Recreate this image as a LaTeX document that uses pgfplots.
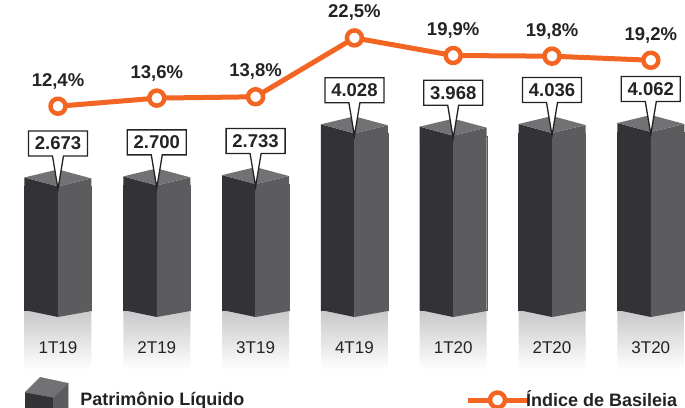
\documentclass[border=0pt]{standalone}
\usepackage{fontspec}
\setmainfont{Liberation Sans}
\usepackage{pgfplots}
\pgfplotsset{compat=1.18}
\usepackage{pgfplotstable}
\usetikzlibrary{shapes.callouts}
\definecolor{pfront}{RGB}{51,50,54}
\definecolor{pside}{RGB}{92,92,94}
\definecolor{ptop}{RGB}{114,114,116}
\definecolor{porange}{RGB}{242,101,34}
\definecolor{boxtop}{RGB}{200,200,202}
\definecolor{txt}{RGB}{35,35,38}

% top of a 3D bar (origin = front corner of the top face)
\pgfdeclareplotmark{bartop}{%
  \pgfpathmoveto{\pgfqpoint{-33.5pt}{-0.6pt}}%
  \pgfpathlineto{\pgfqpoint{-33.5pt}{9pt}}%
  \pgfpathlineto{\pgfqpoint{0pt}{0pt}}%
  \pgfpathlineto{\pgfqpoint{0pt}{-0.6pt}}%
  \pgfpathclose
  \pgfsetfillcolor{pfront}\pgfusepath{fill}%
  \pgfpathmoveto{\pgfqpoint{0pt}{-0.6pt}}%
  \pgfpathlineto{\pgfqpoint{0pt}{0pt}}%
  \pgfpathlineto{\pgfqpoint{33.5pt}{8pt}}%
  \pgfpathlineto{\pgfqpoint{33.5pt}{-0.6pt}}%
  \pgfpathclose
  \pgfsetfillcolor{pside}\pgfusepath{fill}%
  \pgfpathmoveto{\pgfqpoint{-33.5pt}{9pt}}%
  \pgfpathlineto{\pgfqpoint{0pt}{0pt}}%
  \pgfpathlineto{\pgfqpoint{33.5pt}{8pt}}%
  \pgfpathlineto{\pgfqpoint{0pt}{17pt}}%
  \pgfpathclose
  \pgfsetfillcolor{ptop}\pgfusepath{fill}%
}
% bottom of a 3D bar
\pgfdeclareplotmark{barbottom}{%
  \pgfpathmoveto{\pgfqpoint{-33.5pt}{0.6pt}}%
  \pgfpathlineto{\pgfqpoint{0pt}{0.6pt}}%
  \pgfpathlineto{\pgfqpoint{0pt}{-7pt}}%
  \pgfpathlineto{\pgfqpoint{-33.5pt}{0pt}}%
  \pgfpathclose
  \pgfsetfillcolor{pfront}\pgfusepath{fill}%
  \pgfpathmoveto{\pgfqpoint{0pt}{0.6pt}}%
  \pgfpathlineto{\pgfqpoint{33.5pt}{0.6pt}}%
  \pgfpathlineto{\pgfqpoint{33.5pt}{-1pt}}%
  \pgfpathlineto{\pgfqpoint{0pt}{-7pt}}%
  \pgfpathclose
  \pgfsetfillcolor{pside}\pgfusepath{fill}%
}

\pgfplotstableread{
x pl bas
0 2673 12.4
1 2700 13.6
2 2733 13.8
3 4028 22.5
4 3968 19.9
5 4036 19.8
6 4062 19.2
}\datatable

\begin{document}
\begin{tikzpicture}
\useasboundingbox (0,0) rectangle (685pt,407pt);
\begin{axis}[
  at={(0,0)}, anchor=south west,
  scale only axis, width=685pt, height=407pt,
  xmin=-0.587, xmax=6.346, ymin=-2474, ymax=7908,
  clip=false, axis on top,
  axis line style={draw=none}, tick style={draw=none}, major tick length=0pt,
  ytick=\empty,
  xtick={0,...,6},
  xticklabels={1T19,2T19,3T19,4T19,1T20,2T20,3T20},
  xticklabel style={anchor=center, yshift=59pt, font=\fontsize{17}{17}\selectfont, text=txt},
  legend style={draw=none, fill=none, inner sep=0pt, outer sep=0pt,
    at={(axis description cs:0,0)}, anchor=south west, xshift=25pt, yshift=-9.5pt,
    font=\bfseries\fontsize{18}{18}\selectfont, text=txt, column sep=12pt,
    nodes={inner sep=0pt}},
]
% gradient label boxes
\addplot[ybar, bar width=67pt, bar shift=0pt, draw=none, top color=boxtop, bottom color=white, forget plot]
  coordinates {(0,-1531) (1,-1531) (2,-1531) (3,-1531) (4,-1531) (5,-1531) (6,-1531)};
% front faces
\addplot[ybar, bar width=33.5pt, bar shift=-16.75pt, fill=pfront, draw=pfront, line width=0.3pt, forget plot]
  table[x=x, y expr=\thisrow{pl}+479]{\datatable};
% side faces
\addplot[ybar, bar width=33.5pt, bar shift=16.75pt, fill=pside, draw=pside, line width=0.3pt, forget plot]
  table[x=x, y expr=\thisrow{pl}+479]{\datatable};
% bar bottoms
\addplot[only marks, mark=barbottom, forget plot]
  coordinates {(0,0) (1,0) (2,0) (3,0) (4,0) (5,0) (6,0)};
% bar tops and value callouts
\addplot[only marks, mark=bartop, forget plot,
  point meta=explicit,
  nodes near coords={\pgfmathprintnumber[fixed, 1000 sep={.}, assume math mode=true]{\pgfplotspointmeta}},
  every node near coord/.append style={rectangle callout, draw=txt, line width=1.3pt, fill=white,
    minimum width=59pt, minimum height=25pt, inner sep=0pt, anchor=center, yshift=43pt,
    callout relative pointer={(0pt,-33pt)}, callout pointer width=11pt,
    font=\bfseries\fontsize{18.5}{18.5}\selectfont, text=txt}]
  table[x=x, y expr=\thisrow{pl}+479, meta=pl]{\datatable};
\addlegendimage{legend image code/.code={
  \path[draw=none, fill=none] (0pt,-10pt) -- (0pt,30pt);
  \begin{scope}[yshift=-7pt]
  \fill[pfront] (0pt,14pt) -- (28pt,9pt) -- (28pt,-10pt) -- (0pt,-10pt) -- cycle;
  \fill[pside] (28pt,9pt) -- (43pt,23pt) -- (43pt,-10pt) -- (28pt,-10pt) -- cycle;
  \fill[ptop] (0pt,14pt) -- (28pt,9pt) -- (43pt,23pt) -- (15pt,29pt) -- cycle;
  \end{scope}
}}
\addlegendentry{Patrimônio Líquido}
\end{axis}

\begin{axis}[
  at={(0,0)}, anchor=south west,
  scale only axis, width=685pt, height=407pt,
  xmin=-0.587, xmax=6.346, ymin=-32.06, ymax=28.105,
  hide axis, clip=false,
  legend style={draw=none, fill=none, inner sep=0pt, outer sep=0pt,
    at={(axis description cs:0,0)}, anchor=south west, xshift=465pt, yshift=-2.75pt,
    font=\bfseries\fontsize{18}{18}\selectfont, text=txt, column sep=-4pt,
    nodes={inner sep=0pt}},
]
\addplot[porange, line width=5pt, line join=round,
  mark=*, mark size=7.5pt, mark options={fill=white, draw=porange, line width=4.5pt},
  point meta=explicit,
  nodes near coords={\pgfmathprintnumber[fixed, fixed zerofill, precision=1, use comma, assume math mode=true]{\pgfplotspointmeta}\%},
  every node near coord/.append style={anchor=base, yshift=20pt, inner sep=0pt,
    font=\bfseries\fontsize{18.5}{18.5}\selectfont, text=txt},
  legend image code/.code={
    \path[draw=none, fill=none] (0pt,-10pt) -- (0pt,30pt);
    \draw[porange, line width=5pt] (0pt,-0.5pt) -- (60pt,-0.5pt);
    \draw[porange, line width=4.5pt, fill=white] (30pt,-0.5pt) circle (7.5pt);
  }]
  table[x=x, y=bas, meta=bas]{\datatable};
\addlegendentry{Índice de Basileia}
\end{axis}
\end{tikzpicture}
\end{document}
